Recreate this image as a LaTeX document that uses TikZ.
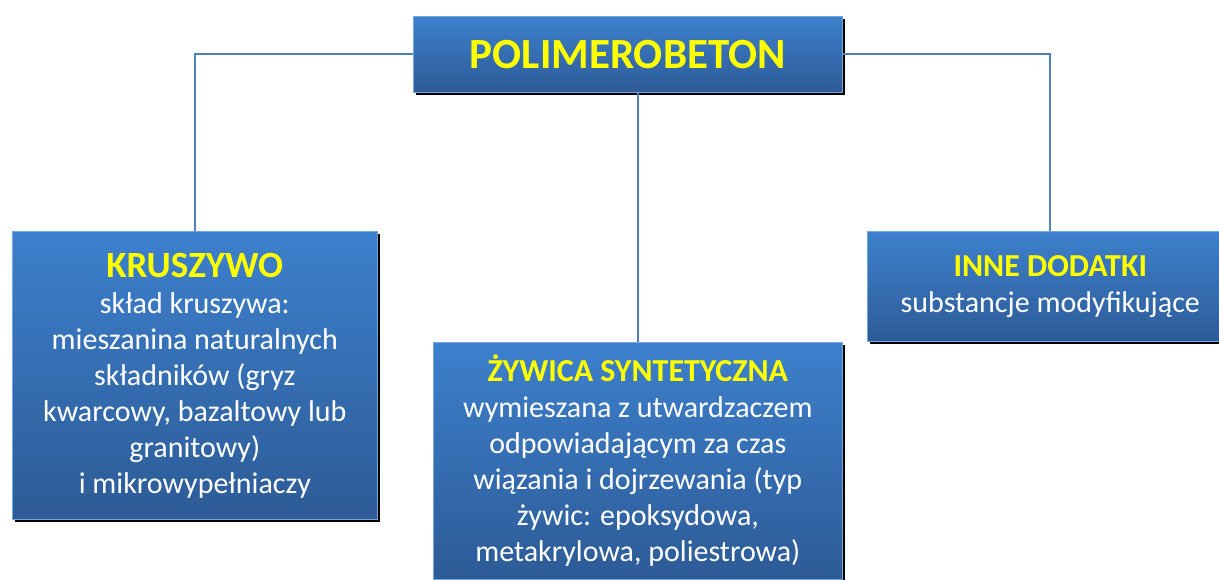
\documentclass[tikz,border=0pt]{standalone}
\usepackage{fontspec}
\setmainfont{Carlito}
\usetikzlibrary{shadows}
\definecolor{boxtop}{RGB}{61,128,205}
\definecolor{boxbot}{RGB}{45,91,150}
\definecolor{linkblue}{RGB}{79,129,189}
\definecolor{titleyellow}{RGB}{255,255,0}

\newcommand{\tyt}[1]{{\color{titleyellow}\bfseries #1}}

\tikzset{
  blok/.style={rectangle, anchor=north west, inner sep=0pt,
    top color=boxtop, bottom color=boxbot, draw=boxtop!70!white, line width=0.6pt,
    text=white, align=center,
    drop shadow={opacity=1, fill=black, shadow xshift=3pt, shadow yshift=-3pt}},
  opis/.style={font=\fontsize{30}{36}\selectfont},
  link/.style={draw=linkblue, line width=2pt}
}

\begin{document}
\begin{tikzpicture}[x=1pt, y=-1pt]
\useasboundingbox (0,0) rectangle (1219,580);

\node[blok, minimum width=429pt, minimum height=76pt, font=\fontsize{43}{50}\selectfont]
  (beton) at (413,16) {\tyt{POLIMEROBETON}};

\node[blok, opis, minimum width=365pt, minimum height=288pt] (kruszywo) at (12,231)
  {{\fontsize{37}{36}\selectfont\tyt{KRUSZYWO}}\\ skład kruszywa:\\ mieszanina naturalnych\\
   składników (gryz\\ kwarcowy, bazaltowy lub\\ granitowy)\\ i mikrowypełniaczy};

\node[blok, opis, minimum width=409pt, minimum height=237pt] (zywica) at (433,342)
  {{\fontsize{32}{36}\selectfont\tyt{ŻYWICA SYNTETYCZNA}}\\ wymieszana z utwardzaczem\\
   odpowiadającym za czas\\ wiązania i dojrzewania (typ\\ żywic: epoksydowa,\\
   metakrylowa, poliestrowa)};

\node[blok, opis, minimum width=366pt, minimum height=110pt] (dodatki) at (867,231)
  {{\fontsize{32}{36}\selectfont\tyt{INNE DODATKI}}\\ substancje modyfikujące};

\draw[link] (beton.west) -| (kruszywo.north);
\draw[link] (beton.east) -| (dodatki.north);
\draw[link] (zywica.north) -- (zywica.north |- beton.south);
\end{tikzpicture}
\end{document}
